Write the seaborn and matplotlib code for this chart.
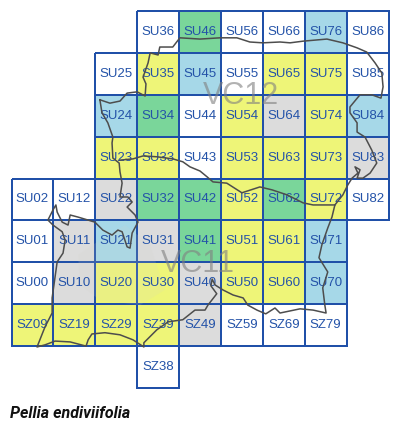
import numpy as np
import pandas as pd
import seaborn as sns
import matplotlib.pyplot as plt
from matplotlib.colors import ListedColormap

##hectads by recording class
no_record = ["SU36", "SU56", "SU66", "SU86", "SU25", "SU55", "SU85", "SU44", "SU43",
             "SU02", "SU12", "SU82", "SU01", "SU00", "SZ59", "SZ69", "SZ79", "SZ38"]
old_record = ["SU64", "SU83", "SU22", "SU11", "SU31", "SU10", "SU40", "SZ49"]
recent_few = ["SU35", "SU65", "SU75", "SU54", "SU74", "SU23", "SU33", "SU53", "SU63", "SU73",
              "SU52", "SU72", "SU51", "SU61", "SU20", "SU30", "SU50", "SU60",
              "SZ09", "SZ19", "SZ29", "SZ39"]
recent_some = ["SU76", "SU45", "SU24", "SU84", "SU21", "SU71", "SU70"]
recent_many = ["SU46", "SU34", "SU32", "SU42", "SU62", "SU41"]
class_colors = ["#ffffff", "#dcdcdc", "#eef578", "#a6d8e8", "#7ad69a"]

# rows run north to south, columns west to east
row_names = ["6", "5", "4", "3", "2", "1", "0", "9", "8"]
col_names = list("012345678")

##vice county outline, km east / km north
outline_east = [421.1, 423.5, 425.9, 427.6, 430.0, 431.9, 432.1, 431.4, 432.6, 433.1, 435.0, 435.4,
                438.5, 440.2, 445.0, 449.8, 453.8, 456.9, 460.0, 464.1, 466.5, 469.6, 475.3, 479.1,
                482.5, 484.8, 486.8, 488.4, 488.7, 488.2, 486.0, 483.2, 480.8, 480.8, 482.5, 482.5,
                484.4, 486.0, 487.2, 485.6, 483.9, 482.5, 483.2, 482.0, 482.7, 481.3, 480.3, 479.1,
                477.2, 476.5, 475.5, 474.1, 473.4, 475.5, 474.3, 474.8, 475.1, 472.0, 468.9, 466.5,
                464.1, 462.9, 460.7, 458.6, 456.4, 455.3, 452.9, 450.5, 448.6, 447.9, 447.6, 449.0,
                446.9, 446.2, 443.8, 440.9, 437.4, 434.7, 431.6, 431.6, 429.0, 425.9, 422.3, 419.2,
                418.3, 417.8, 414.0, 410.4, 408.0, 406.1, 408.0, 409.7, 409.7, 410.4, 410.9, 412.3,
                412.8, 412.1, 409.9, 408.7, 409.9, 410.6, 410.9, 412.1, 413.5, 414.0, 415.9, 419.9,
                421.8, 424.0, 425.4, 426.4, 427.6, 428.3, 428.8, 430.2, 429.5, 427.6, 428.8, 427.8,
                425.9, 426.4, 425.9, 425.7, 424.2, 424.0, 424.2, 423.0, 421.6, 421.1]
outline_north = [148.8, 148.0, 148.5, 150.4, 150.7, 149.7, 152.6, 154.2, 157.6, 160.0, 159.5, 161.4,
                 161.4, 163.6, 163.3, 163.6, 163.6, 162.6, 162.4, 162.6, 162.4, 162.8, 163.3, 162.4,
                 161.2, 160.2, 157.6, 155.2, 151.9, 149.2, 150.0, 150.0, 147.1, 145.7, 143.3, 141.1,
                 139.9, 136.8, 133.7, 131.3, 130.1, 130.1, 132.1, 132.8, 131.3, 130.1, 128.5, 126.1,
                 123.7, 120.8, 118.2, 114.2, 111.1, 107.7, 103.9, 99.8, 97.9, 98.6, 98.9, 98.4,
                 97.9, 99.1, 97.7, 98.6, 99.8, 101.5, 102.2, 103.4, 104.6, 106.0, 104.4, 102.5,
                 99.8, 98.6, 98.6, 96.3, 95.8, 93.9, 90.8, 89.8, 91.5, 92.7, 93.2, 92.9,
                 91.5, 90.0, 91.0, 91.2, 90.3, 89.8, 94.6, 97.9, 101.5, 106.5, 110.1, 112.2,
                 115.3, 117.3, 118.9, 120.1, 122.5, 123.7, 122.0, 119.6, 118.9, 121.3, 120.8, 119.6,
                 117.7, 116.5, 117.7, 117.3, 113.7, 113.4, 117.0, 119.6, 121.3, 123.2, 124.4, 125.6,
                 125.6, 128.9, 131.6, 133.7, 134.9, 138.5, 139.9, 143.3, 145.7, 148.8]
divide_east = [425.9, 429.0, 431.4, 434.7, 438.5, 440.9, 442.6, 445.0, 446.7, 448.1, 451.4, 455.0,
               459.3, 462.2, 465.8, 469.6, 472.0, 474.8, 477.2]
divide_north = [134.4, 134.7, 135.4, 135.2, 134.7, 134.0, 132.8, 131.8, 130.4, 129.2, 128.9, 126.6,
                128.0, 127.3, 126.1, 124.2, 123.7, 123.7, 123.7]

# faint forest shading under the grid text
forest_east = [415.9, 421.1, 427.1, 433.1, 436.6, 430.7, 421.1, 416.3]
forest_north = [111.8, 115.3, 118.9, 114.2, 103.4, 99.8, 101.0, 104.6]

vc_labels = ["VC12", "VC11"]
vc_east = [454.8, 444.5]
vc_north = [149.6, 109.7]

species = "Pellia endiviifolia"

##build the grid
classes = [no_record, old_record, recent_few, recent_some, recent_many]
grid = pd.DataFrame(np.nan, index=row_names, columns=col_names)
names = pd.DataFrame("", index=row_names, columns=col_names)
for c, squares in enumerate(classes):
    for sq in squares:
        grid.loc[sq[3], sq[2]] = c
        names.loc[sq[3], sq[2]] = sq

plt.rcParams['font.family'] = ['Liberation Sans']
fig = plt.figure(figsize=(4.0, 4.3), dpi=100)
ax = fig.add_axes([11.5 / 400, 1 - 388 / 430, 377 / 400, 377 / 430])
sns.heatmap(grid, ax=ax, cmap=ListedColormap(class_colors), vmin=-0.5, vmax=4.5, cbar=False,
            annot=names.values, fmt="", annot_kws={"color": "#2352a8", "fontsize": 9.5},
            linewidths=1.3, linecolor="#2050a8", square=False, xticklabels=False, yticklabels=False)

# the mesh still strokes the empty squares, so give those a clear edge
mesh = ax.collections[0]
edges = np.tile(np.array([0x20 / 255, 0x50 / 255, 0xa8 / 255, 1.0]), (grid.size, 1))
edges[np.isnan(grid.values).ravel(), 3] = 0
mesh.set_edgecolors(edges)
mesh.set_clip_on(False)

# shading sits under the mesh lines so it only tints the squares
ax.fill((np.array(forest_east) - 400) / 10, (170 - np.array(forest_north)) / 10,
        color="#d4d4c8", alpha=0.14, lw=0, zorder=2.5)

for e, n, t in zip(vc_east, vc_north, vc_labels):
    ax.text((e - 400) / 10, (170 - n) / 10, t, color="#808080", alpha=0.6, fontsize=22,
            ha="center", va="center", zorder=4)

ax.plot((np.array(outline_east) - 400) / 10, (170 - np.array(outline_north)) / 10,
        color="#4d4d4d", lw=1.1, zorder=5, clip_on=False)
ax.plot((np.array(divide_east) - 400) / 10, (170 - np.array(divide_north)) / 10,
        color="#4d4d4d", lw=1.1, zorder=5, clip_on=False)

fig.text(10 / 400, 1 - 414 / 430, species, family="Roboto", style="italic", weight="bold",
         fontsize=11.5, color="#111111", ha="left", va="center")

plt.savefig("out.png", dpi=100)
